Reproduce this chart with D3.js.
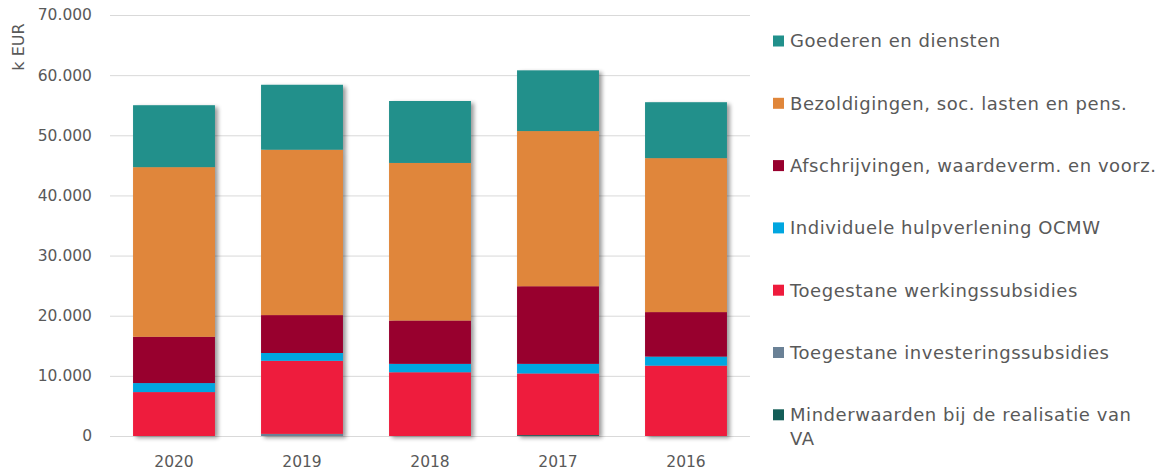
<!DOCTYPE html>
<html><head><meta charset="utf-8">
<script src="https://cdn.jsdelivr.net/npm/d3@7"></script>
<style>body{margin:0;background:#fff;} svg{display:block;}</style>
</head><body>
<svg id="c" width="1168" height="473"></svg>
<script>
const years = ["2020","2019","2018","2017","2016"];
const seriesNames = [
  "Minderwaarden bij de realisatie van VA",
  "Toegestane investeringssubsidies",
  "Toegestane werkingssubsidies",
  "Individuele hulpverlening OCMW",
  "Afschrijvingen, waardeverm. en voorz.",
  "Bezoldigingen, soc. lasten en pens.",
  "Goederen en diensten"
];
const minderwaarden      = [0, 0, 0, 150, 0];
const investeringssub    = [0, 350, 0, 0, 0];
const werkingssub        = [7300, 12150, 10600, 10250, 11700];
const individuele        = [1500, 1300, 1400, 1600, 1500];
const afschrijvingen     = [7700, 6300, 7200, 12900, 7400];
const bezoldigingen      = [28200, 27500, 26200, 25800, 25600];
const goederen           = [10300, 10800, 10300, 10100, 9300];
const yTicks = [0,10000,20000,30000,40000,50000,60000,70000];
const colors = ["#145e58","#6a8196","#ee1b3c","#00a6e0","#98002e","#e0863a","#21908b"];
const allSeries = [minderwaarden, investeringssub, werkingssub, individuele, afschrijvingen, bezoldigingen, goederen];

const svg = d3.select("#c");
const M = {l:110, r:750, t:15, b:436};
const x = d3.scaleBand().domain(years).range([M.l, M.r]).paddingInner(0.36).paddingOuter(0.18);
const y = d3.scaleLinear().domain([0,70000]).range([M.b, M.t]);
const fmt = v => d3.format(",")(v).replace(/,/g,".");

const defs = svg.append("defs");
const f = defs.append("filter").attr("id","sh").attr("x","-10%").attr("y","-10%").attr("width","130%").attr("height","130%");
f.append("feGaussianBlur").attr("in","SourceAlpha").attr("stdDeviation",2).attr("result","b");
f.append("feOffset").attr("in","b").attr("dx",3).attr("dy",2).attr("result","o");
f.append("feComponentTransfer").attr("in","o").attr("result","o2").append("feFuncA").attr("type","linear").attr("slope",0.4);
const fm = f.append("feMerge"); fm.append("feMergeNode").attr("in","o2"); fm.append("feMergeNode").attr("in","SourceGraphic");

// grid
const yAxis = d3.axisLeft(y).tickValues(yTicks).tickSize(-(M.r-M.l)).tickFormat(fmt).tickPadding(18);
const ga = svg.append("g").attr("transform",`translate(${M.l},0)`).call(yAxis);
ga.select(".domain").remove();
ga.selectAll(".tick line").attr("stroke","#d9d9d9").attr("stroke-width",1);
ga.selectAll(".tick text").attr("fill","#595959").style("font-family","'DejaVu Sans', sans-serif").style("font-size","15.5px");

// stack
const table = years.map((yr,i)=>{ const o={year:yr}; seriesNames.forEach((s,j)=>o[s]=allSeries[j][i]); return o;});
const stack = d3.stack().keys(seriesNames)(table);
const gb = svg.append("g").attr("filter","url(#sh)");
stack.forEach((layer,j)=>{
  gb.selectAll(null).data(layer).enter().append("rect")
    .attr("x",d=>x(d.data.year)).attr("width",x.bandwidth())
    .attr("y",d=>y(d[1])).attr("height",d=>Math.max(0,y(d[0])-y(d[1])))
    .attr("fill",colors[j]);
});

// x axis
const xAxis = d3.axisBottom(x).tickSize(0).tickPadding(20);
const gx = svg.append("g").attr("transform",`translate(0,${M.b})`).call(xAxis);
gx.select(".domain").remove();
gx.selectAll(".tick text").attr("fill","#595959").style("font-family","'DejaVu Sans', sans-serif").style("font-size","15.5px");

// y title
svg.append("text").attr("transform","translate(24,47) rotate(-90)").attr("text-anchor","middle")
  .attr("fill","#595959").style("font-family","'DejaVu Sans', sans-serif").style("font-size","16px").text("k EUR");

// legend (top to bottom reverse of stack)
const legendOrder = seriesNames.map((s,j)=>({s,c:colors[j]})).reverse();
const lg = svg.append("g").style("font-family","'DejaVu Sans', sans-serif").style("font-size","18px").style("letter-spacing","0.55px");
legendOrder.forEach((d,i)=>{
  const cy = 41 + i*62.3;
  lg.append("rect").attr("x",773).attr("y",cy-5.5).attr("width",11).attr("height",11).attr("fill",d.c);
  const t = lg.append("text").attr("x",790).attr("y",cy).attr("dy","0.36em").attr("fill","#595959");
  const words = d.s.split(" ");
  let line = [], tspan = t.append("tspan").attr("x",790);
  words.forEach(w=>{
    line.push(w); tspan.text(line.join(" "));
    if (tspan.node().getComputedTextLength() > 369 && line.length>1){
      line.pop(); tspan.text(line.join(" ")); line=[w];
      tspan = t.append("tspan").attr("x",790).attr("dy","1.3em").text(w);
    }
  });
});
</script>
</body></html>
